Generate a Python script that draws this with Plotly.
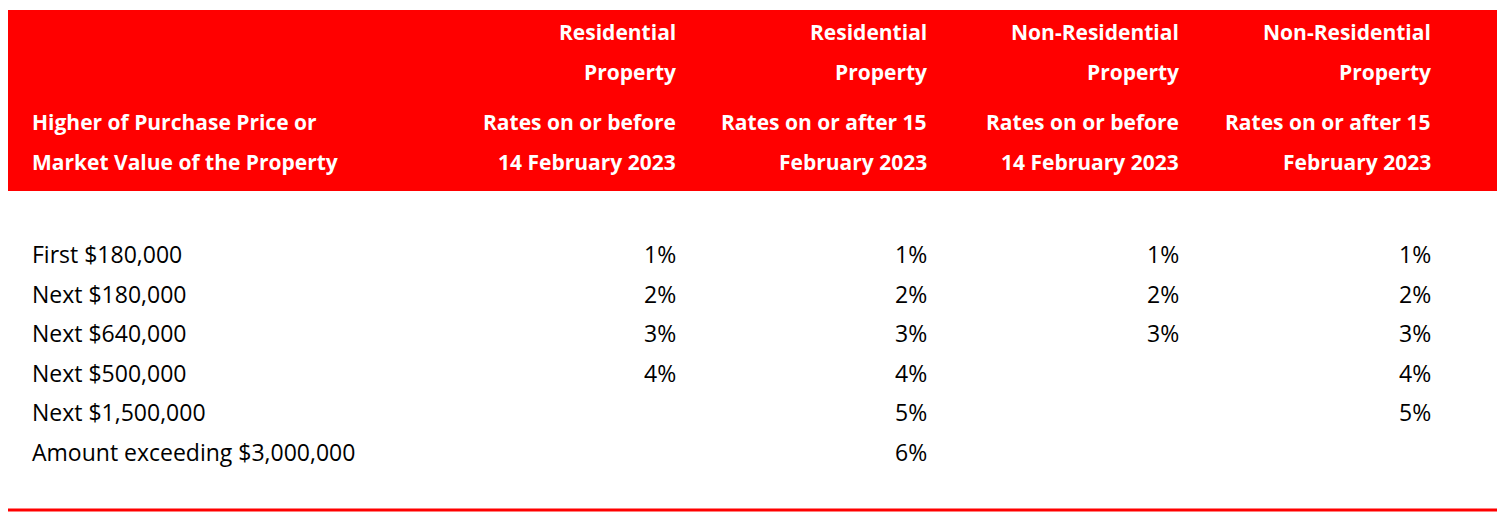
import plotly.graph_objects as go

bands = ["First $180,000", "Next $180,000", "Next $640,000", "Next $500,000",
         "Next $1,500,000", "Amount exceeding $3,000,000"]
res_before = ["1%", "2%", "3%", "4%", "", ""]
res_after = ["1%", "2%", "3%", "4%", "5%", "6%"]
nonres_before = ["1%", "2%", "3%", "", "", ""]
nonres_after = ["1%", "2%", "3%", "4%", "5%", ""]
col_headers = [
    ["Residential", "Property", "Rates on or before", "14 February 2023"],
    ["Residential", "Property", "Rates on or after 15", "February 2023"],
    ["Non-Residential", "Property", "Rates on or before", "14 February 2023"],
    ["Non-Residential", "Property", "Rates on or after 15", "February 2023"],
]
first_header = ["Higher of Purchase Price or", "Market Value of the Property"]

W, H = 1507, 526
OFF = 8  # default page body margin
FONT = "Open Sans, Lato, sans-serif"
col_right = [678, 929, 1181, 1433]
row_y = [254, 294, 333, 373, 412, 452]
head_y = [32, 72, 122, 162]

fig = go.Figure()
fig.add_shape(type="rect", x0=8 - OFF, x1=1497 - OFF, y0=10 - OFF, y1=191 - OFF,
              fillcolor="#ff0000", line_width=0, layer="below")
fig.add_shape(type="line", x0=8 - OFF, x1=1497 - OFF, y0=510 - OFF, y1=510 - OFF,
              line=dict(color="#ff0000", width=3))

ann = []
def txt(x, y, s, anchor, color="black", bold=False, size=23):
    ann.append(dict(x=x - OFF, y=y - OFF, text=f"<b>{s}</b>" if bold else s, showarrow=False,
                    xanchor=anchor, yanchor="middle", xref="x", yref="y",
                    font=dict(family=FONT, size=size, color=color)))

for i, s in enumerate(first_header):
    txt(30, head_y[2 + i], s, "left", "white", True, 21)
for c, lines in enumerate(col_headers):
    for i, s in enumerate(lines):
        txt(col_right[c], head_y[i], s, "right", "white", True, 21)
for r, b in enumerate(bands):
    txt(30, row_y[r], b, "left")
for c, col in enumerate([res_before, res_after, nonres_before, nonres_after]):
    for r, v in enumerate(col):
        if v:
            txt(col_right[c], row_y[r], v, "right")

fig.update_layout(
    width=W, height=H, margin=dict(l=0, r=0, t=0, b=0),
    paper_bgcolor="white", plot_bgcolor="white", annotations=ann,
    xaxis=dict(range=[0, W], visible=False, fixedrange=True),
    yaxis=dict(range=[H, 0], visible=False, fixedrange=True),
    showlegend=False,
)
fig.write_html("out.html")
